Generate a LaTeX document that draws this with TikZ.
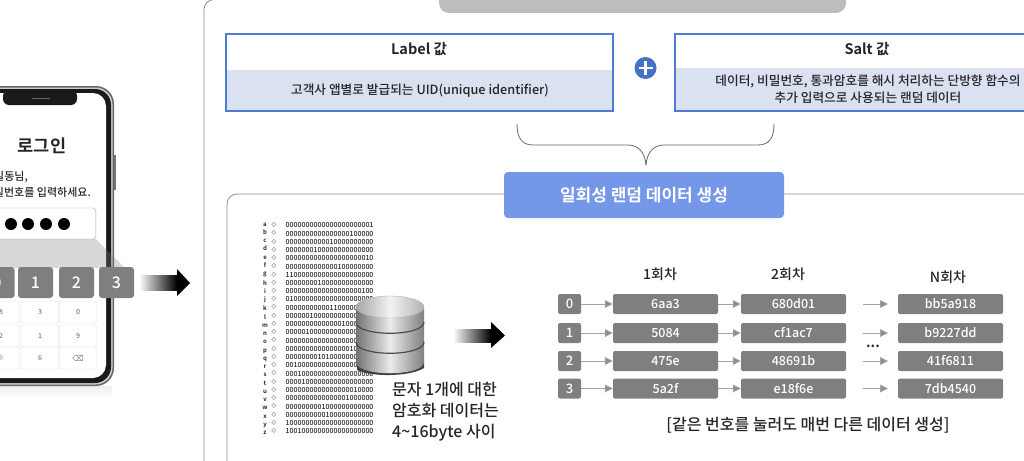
\documentclass[tikz,border=0pt]{standalone}
\usepackage{fontspec}
\setmainfont{Noto Sans CJK KR Medium}[BoldFont={Noto Sans CJK KR Bold}]
\newfontfamily\symfont{DejaVu Sans}
\usetikzlibrary{positioning,arrows.meta,shapes.geometric}
\definecolor{boxblue}{RGB}{79,123,209}
\definecolor{plusblue}{RGB}{68,114,196}
\definecolor{btnblue}{RGB}{116,151,234}
\definecolor{lavender}{RGB}{218,225,241}
\definecolor{keygray}{RGB}{127,127,127}
\definecolor{pillgray}{RGB}{189,189,189}
\definecolor{tipgray}{RGB}{140,140,140}
\newcommand{\fs}[1]{\fontsize{#1}{#1}\selectfont}
\tikzset{
  txt/.style={inner sep=0pt,text=black!85},
  numbox/.style={fill=keygray,rounded corners=2pt,minimum height=20pt,minimum width=23pt,inner sep=0pt,text=white,font=\fs{13}},
  valbox/.style={fill=keygray,rounded corners=2pt,minimum height=20pt,minimum width=105pt,inner sep=0pt,text=white,font=\fs{12.5}},
  padkey/.style={fill=keygray,rounded corners=3pt,minimum height=31pt,minimum width=35pt,inner sep=0pt,text=white,font=\fs{16}},
  softkey/.style={draw=black!12,fill=white,rounded corners=2pt,minimum height=22pt,minimum width=37pt,inner sep=0pt,text=black!50,font=\fs{7}},
  headbox/.style={draw=boxblue,line width=1.5pt,fill=white},
  flow/.style={draw=black!35,line width=0.8pt,-{Triangle[length=8pt,width=8pt,fill=tipgray]}},
  frameline/.style={draw=black!45,line width=0.8pt,rounded corners=10pt},
  dbband/.style={draw=black!70,line width=1.2pt}
}
\begin{document}
\begin{tikzpicture}[x=1pt,y=-1pt]
  \useasboundingbox (0,0) rectangle (1024,460);
  \clip (0,0) rectangle (1024,460);

  % phone
  \shade[top color=black!7,bottom color=white] (0,386) rectangle (112,398);
  \fill[black!60,rounded corners=18pt] (-60,86) rectangle (114,386);
  \fill[black!20,rounded corners=17pt] (-60,87.5) rectangle (112.5,384.5);
  \fill[black!90,rounded corners=16pt] (-60,89) rectangle (111,383);
  \fill[white,rounded corners=13pt] (-60,93) rectangle (106,378);
  \fill[black!55] (114,155) rectangle (115.5,190);
  \fill[black!90,rounded corners=6pt] (3,90) rectangle (77,105);
  \draw[black!60,line width=1pt] (32,98) -- (50,98);
  \node[txt,font={\fs{17.5}\bfseries}] (title) at (42,146) {로그인};
  \node[txt,font=\fs{11},anchor=east] (hello) at (28,177) {홍길동님,};
  \node[txt,font=\fs{11},anchor=east] (ask) at (91,192) {비밀번호를 입력하세요.};
  \node[draw=black!35,fill=white,rounded corners=3pt,minimum width=130pt,minimum height=31pt,anchor=east] (pwbox) at (96,223.5) {};
  \foreach \px in {11,28,46,64} \fill[black] (\px,224) circle (6pt);

  \fill[black!50,fill opacity=0.3] (0,239) -- (96,239) -- (125,268) -- (0,268) -- cycle;

  \node[softkey] (k1) at (1,312) {8};
  \node[softkey] (k2) at (40,312) {3};
  \node[softkey] (k3) at (78,312) {0};
  \node[softkey] (k4) at (1,336) {2};
  \node[softkey] (k5) at (40,336) {1};
  \node[softkey] (k6) at (78,336) {9};
  \node[softkey] (k7) at (1,358) {※};
  \node[softkey] (k8) at (40,358) {6};
  \node[softkey,font={\symfont\fs{8}}] (k9) at (78,358) {⌫};

  \node[padkey] (p0) at (-3,282.5) {0};
  \node[padkey] (p1) at (35.5,282.5) {1};
  \node[padkey] (p2) at (76.5,282.5) {2};
  \node[padkey] (p3) at (116.5,282.5) {3};

  % block arrows
  \shade[left color=white,right color=black] (139,275.5) rectangle (177,290.5);
  \fill[black] (177,269) -- (190,283) -- (177,296) -- cycle;
  \shade[left color=white,right color=black] (453,329) rectangle (491,342);
  \fill[black] (491,322) -- (505,335.5) -- (491,348) -- cycle;

  % outer frame and top
  \draw[frameline] (204,-0.5) rectangle (1060,480);
  \fill[pillgray,rounded corners=10pt] (439,-30) rectangle (846,13);

  \node[headbox,minimum width=387pt,minimum height=77pt] (label) at (419.5,72.5) {};
  \fill[lavender] (227,70) rectangle (612.2,110.2);
  \draw[boxblue,line width=1.5pt] (226,34) rectangle (613,111);
  \node[txt,font={\fs{14.5}\bfseries}] (labelt) at (419,49) {Label 값};
  \node[txt,font=\fs{12.7}] (labeld) at (420,90.5) {고객사 앱별로 발급되는 UID(unique identifier)};

  \node[headbox,minimum width=385pt,minimum height=77pt] (salt) at (867.5,72.5) {};
  \fill[lavender] (676,68) rectangle (1059,110.2);
  \draw[boxblue,line width=1.5pt] (675,34) rectangle (1060,111);
  \node[txt,font={\fs{14.5}\bfseries}] (saltt) at (867,49) {Salt 값};
  \node[txt,font=\fs{12.7},align=center] (saltd) at (868,89) {데이터, 비밀번호, 통과암호를 해시 처리하는 단방향 함수의\\[2.5pt]추가 입력으로 사용되는 랜덤 데이터};

  \node[circle,fill=plusblue,minimum size=22pt,inner sep=0pt] (plus) at (645.5,68) {};
  \draw[white,line width=2.6pt] (638.5,68) -- (652.5,68);
  \draw[white,line width=2.6pt] (645.5,61) -- (645.5,75);

  % brace
  \coordinate (bl) at (517,124);
  \coordinate (br) at (774,124);
  \coordinate (bt) at (646,165);
  \draw[black!60,line width=0.8pt] (bl) .. controls (517,138) and (522,145) .. (533,145) -- (628,145) .. controls (638,145) and (645,152) .. (bt);
  \draw[black!60,line width=0.8pt] (br) .. controls (774,138) and (769,145) .. (758,145) -- (664,145) .. controls (654,145) and (647,152) .. (bt);

  % lower frame
  \draw[frameline] (227,194) rectangle (1060,480);
  \node[fill=btnblue,rounded corners=4pt,minimum width=280pt,minimum height=46pt,inner sep=0pt,text=white,font={\fs{17}\bfseries}] (make) at (644,195) {일회성 랜덤 데이터 생성};

  % character codes
  \node[txt,font={\fs{6}\bfseries},align=center,anchor=north] (letters) at (265,222.5) {a\\[2.24pt]b\\[2.24pt]c\\[2.24pt]d\\[2.24pt]e\\[2.24pt]f\\[2.24pt]g\\[2.24pt]h\\[2.24pt]i\\[2.24pt]j\\[2.24pt]k\\[2.24pt]l\\[2.24pt]m\\[2.24pt]n\\[2.24pt]o\\[2.24pt]p\\[2.24pt]q\\[2.24pt]r\\[2.24pt]s\\[2.24pt]t\\[2.24pt]u\\[2.24pt]v\\[2.24pt]w\\[2.24pt]x\\[2.24pt]y\\[2.24pt]z};
  \node[txt,font={\symfont\fs{6}},align=center,anchor=north] (marks) at (274,222.5) {◇\\[2.24pt]◇\\[2.24pt]◇\\[2.24pt]◇\\[2.24pt]◇\\[2.24pt]◇\\[2.24pt]◇\\[2.24pt]◇\\[2.24pt]◇\\[2.24pt]◇\\[2.24pt]◇\\[2.24pt]◇\\[2.24pt]◇\\[2.24pt]◇\\[2.24pt]◇\\[2.24pt]◇\\[2.24pt]◇\\[2.24pt]◇\\[2.24pt]◇\\[2.24pt]◇\\[2.24pt]◇\\[2.24pt]◇\\[2.24pt]◇\\[2.24pt]◇\\[2.24pt]◇\\[2.24pt]◇};
  \node[txt,font=\fs{7},align=left,anchor=north west] (codes) at (285.5,222.5) {0000000000000000000001\\[1.24pt]0000000000000000100000\\[1.24pt]0000000000010000000000\\[1.24pt]0000000100000000000000\\[1.24pt]0000000000000000000010\\[1.24pt]0000000000000100000000\\[1.24pt]1100000000000000000000\\[1.24pt]0000000010000000000000\\[1.24pt]0000000000000000000100\\[1.24pt]0100000000000000000000\\[1.24pt]0000000000011000000000\\[1.24pt]0000001000000000000000\\[1.24pt]0000000000000010000000\\[1.24pt]0000010000000000000000\\[1.24pt]0000000000000000001000\\[1.24pt]0000000000000000100000\\[1.24pt]0000000010100000000000\\[1.24pt]0010000000000000000000\\[1.24pt]0001000000000000000000\\[1.24pt]0000100000000000000000\\[1.24pt]0000000000000000010000\\[1.24pt]0000000000000001000000\\[1.24pt]0000000001000000000000\\[1.24pt]0000000000100000000000\\[1.24pt]1000000000000000000000\\[1.24pt]1001000000000000000000};

  % database
  \fill[black!75] (357,370) .. controls (370,377) and (410,377) .. (424,368) -- (424,362) -- (357,362) -- cycle;
  \shade[left color=black!55,right color=black!50,middle color=black!8] (356,307) -- (356,362) .. controls (356,377) and (424,377) .. (424,362) -- (424,307) -- cycle;
  \shade[left color=black!35,right color=black!30,middle color=black!5] (390,307) ellipse (34pt and 11pt);
  \draw[black!30,line width=0.4pt] (390,307) ellipse (34pt and 11pt);
  \draw[dbband] (356,322) .. controls (356,337) and (424,337) .. (424,322);
  \draw[dbband] (356,342) .. controls (356,357) and (424,357) .. (424,342);
  \node[fill=white,inner sep=1pt,text=black!85,font=\fs{16},align=left,anchor=north west] (dbnote) at (391,381) {문자 1개에 대한\\[5pt]암호화 데이터는\\[5pt]4\textasciitilde16byte 사이};

  % table
  \node[txt,font=\fs{14}] (h1) at (660,274) {1회차};
  \node[txt,font=\fs{14}] (h2) at (788,274) {2회차};
  \node[txt,font=\fs{14}] (h3) at (948,277) {N회차};

  \node[numbox] (n0) at (569.5,304) {0};
  \node[numbox] (n1) at (569.5,333) {1};
  \node[numbox] (n2) at (569.5,361) {2};
  \node[numbox] (n3) at (569.5,388.5) {3};
  \node[valbox] (a0) at (665.5,304) {6aa3};
  \node[valbox] (a1) at (665.5,333) {5084};
  \node[valbox] (a2) at (665.5,361) {475e};
  \node[valbox] (a3) at (665.5,388.5) {5a2f};
  \node[valbox] (b0) at (793.5,304) {680d01};
  \node[valbox] (b1) at (793.5,333) {cf1ac7};
  \node[valbox] (b2) at (793.5,361) {48691b};
  \node[valbox] (b3) at (793.5,388.5) {e18f6e};
  \node[valbox] (c0) at (950.5,304) {bb5a918};
  \node[valbox] (c1) at (950.5,333) {b9227dd};
  \node[valbox] (c2) at (950.5,361) {41f6811};
  \node[valbox] (c3) at (950.5,388.5) {7db4540};

  \draw[flow] (n0) to (a0);
  \draw[flow] (n1) to (a1);
  \draw[flow] (n2) to (a2);
  \draw[flow] (n3) to (a3);
  \draw[flow] (a0) to (b0);
  \draw[flow] (a1) to (b1);
  \draw[flow] (a2) to (b2);
  \draw[flow] (a3) to (b3);

  \coordinate (s0) at (863,304);
  \coordinate (s1) at (863,333);
  \coordinate (s2) at (863,361);
  \coordinate (s3) at (863,388.5);
  \coordinate (e0) at (888,304);
  \coordinate (e1) at (888,333);
  \coordinate (e2) at (888,361);
  \coordinate (e3) at (888,388.5);
  \draw[flow] (s0) to (e0);
  \draw[flow] (s1) to (e1);
  \draw[flow] (s2) to (e2);
  \draw[flow] (s3) to (e3);
  \node[txt,font={\fs{14}\bfseries}] (dots) at (873,346) {...};

  \node[txt,font=\fs{16}] (foot) at (808,425) {[같은 번호를 눌러도 매번 다른 데이터 생성]};
\end{tikzpicture}
\end{document}
